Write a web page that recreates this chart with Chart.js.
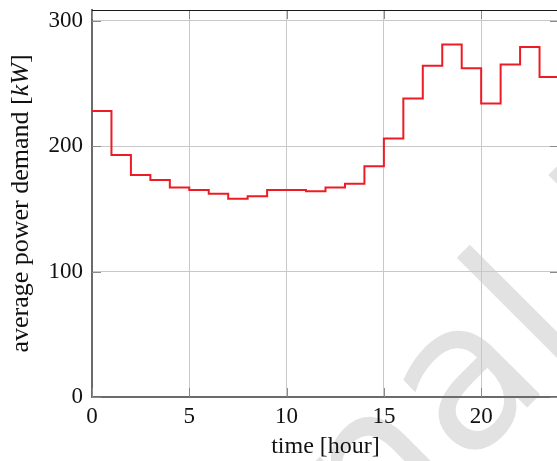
<!DOCTYPE html>
<html lang="en">
<head>
    <meta charset="UTF-8" />
    <title>Average power demand</title>
    <script src="https://cdn.jsdelivr.net/npm/chart.js"></script>
    <style>
        html, body { margin: 0; padding: 0; overflow: hidden; background: #fff; }
        #wrap { width: 575px; height: 461px; }
    </style>
</head>
<body>
    <div id="wrap"><canvas id="demandChart" width="575" height="461"></canvas></div>

    <script>
        // hour of the day where each step starts, and the average demand in that hour (kW)
        const hourStarts = [0, 1, 2, 3, 4, 5, 6, 7, 8, 9, 10, 11, 12, 13, 14, 15, 16, 17, 18, 19, 20, 21, 22, 23];
        const demand = [228, 193, 177, 173, 167, 165, 162, 158, 160, 165, 165, 164, 167, 170, 184, 206, 238, 264, 281, 262, 234, 265, 279, 255];
        const xTicks = [0, 5, 10, 15, 20];
        const yTicks = [0, 100, 200, 300];

        const serif = "'Liberation Serif', 'Times New Roman', serif";

        // last step has to be closed at the end of the hour
        const points = hourStarts.map((h, i) => ({ x: h, y: demand[i] }));
        points.push({ x: hourStarts[hourStarts.length - 1] + 1, y: demand[demand.length - 1] });

        const watermark = {
            id: "watermark",
            beforeDraw(chart) {
                const ctx = chart.ctx;
                const text = "Final Draft";
                ctx.save();
                ctx.font = "205px 'DejaVu Sans', sans-serif";
                ctx.fillStyle = "#e2e2e2";
                ctx.textBaseline = "alphabetic";
                ctx.rotate(-Math.PI / 4);
                const start = 150 - (ctx.measureText("Fina").width + ctx.measureText("l").width / 2);
                ctx.fillText(text, start, 661);
                ctx.restore();
            },
        };

        const frame = {
            id: "frame",
            afterDraw(chart) {
                const ctx = chart.ctx;
                const area = chart.chartArea;
                const xs = chart.scales.x;
                const ys = chart.scales.y;
                const len = 9;
                ctx.save();

                // inward tick marks on all four sides
                ctx.strokeStyle = "#8a8a8a";
                ctx.lineWidth = 1;
                ctx.beginPath();
                xTicks.forEach((v) => {
                    const px = Math.round(xs.getPixelForValue(v)) + 0.5;
                    ctx.moveTo(px, area.bottom);
                    ctx.lineTo(px, area.bottom - len);
                    ctx.moveTo(px, area.top);
                    ctx.lineTo(px, area.top + len);
                });
                yTicks.forEach((v) => {
                    const py = Math.round(ys.getPixelForValue(v)) + 0.5;
                    ctx.moveTo(area.left, py);
                    ctx.lineTo(area.left + len, py);
                    ctx.moveTo(area.right, py);
                    ctx.lineTo(area.right - len, py);
                });
                ctx.stroke();

                // top border
                ctx.strokeStyle = "#1a1a1a";
                ctx.beginPath();
                ctx.moveTo(area.left, Math.round(area.top) + 0.5);
                ctx.lineTo(area.right, Math.round(area.top) + 0.5);
                ctx.stroke();

                // axis titles
                ctx.fillStyle = "#111";
                ctx.textBaseline = "alphabetic";
                ctx.font = "24px " + serif;
                ctx.textAlign = "center";
                ctx.fillText("time [hour]", (area.left + area.right) / 2, 453);

                const parts = [
                    ["average power demand [", "26px " + serif],
                    ["kW", "italic 26px " + serif],
                    ["]", "26px " + serif],
                ];
                let total = 0;
                parts.forEach((p) => {
                    ctx.font = p[1];
                    total += ctx.measureText(p[0]).width;
                });
                ctx.translate(28, (area.top + area.bottom) / 2);
                ctx.rotate(-Math.PI / 2);
                ctx.textAlign = "left";
                let pos = -total / 2;
                parts.forEach((p) => {
                    ctx.font = p[1];
                    ctx.fillText(p[0], pos, 0);
                    pos += ctx.measureText(p[0]).width;
                });
                ctx.restore();
            },
        };

        new Chart(document.getElementById("demandChart"), {
            type: "line",
            data: {
                datasets: [
                    {
                        label: "average power demand",
                        data: points,
                        stepped: "before",
                        borderColor: "rgb(237, 28, 36)",
                        borderWidth: 2,
                        pointRadius: 0,
                        fill: false,
                    },
                ],
            },
            options: {
                responsive: false,
                animation: false,
                devicePixelRatio: 1,
                layout: { padding: { top: 10, right: 16, left: 0, bottom: 0 } },
                plugins: {
                    legend: { display: false },
                    tooltip: { enabled: false },
                },
                scales: {
                    x: {
                        type: "linear",
                        min: 0,
                        max: 24,
                        afterBuildTicks: (s) => { s.ticks = xTicks.map((v) => ({ value: v })); },
                        afterFit: (s) => { s.height = 64; s.paddingLeft = 0; s.paddingRight = 0; },
                        ticks: { font: { family: serif, size: 23 }, color: "#111", padding: 6, maxRotation: 0, autoSkip: false },
                        grid: { color: "#c8c8c8", drawTicks: false },
                        border: { color: "#6b6b6b", width: 2 },
                    },
                    y: {
                        min: 0,
                        max: 308.5,
                        afterBuildTicks: (s) => { s.ticks = yTicks.map((v) => ({ value: v })); },
                        afterFit: (s) => { s.width = 92; s.paddingTop = 0; s.paddingBottom = 0; },
                        ticks: { font: { family: serif, size: 23 }, color: "#111", padding: 9 },
                        grid: { color: "#c8c8c8", drawTicks: false },
                        border: { color: "#6b6b6b", width: 2 },
                    },
                },
            },
            plugins: [watermark, frame],
        });
    </script>
</body>
</html>
